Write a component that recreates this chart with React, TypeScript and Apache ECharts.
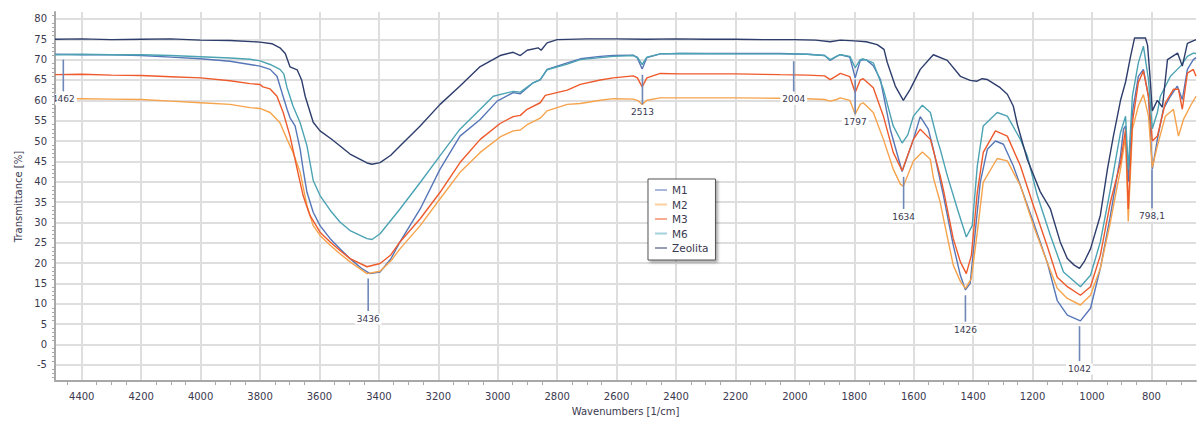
import React, { useEffect, useRef } from "react";
import * as echarts from "echarts";

const seriesNames = ["M1", "M2", "M3", "M6", "Zeolita"];
const seriesColors = ["#5676b8", "#f6a34c", "#ee5a2c", "#4ba3b3", "#2d3d6c"];
const legendColors = ["#a9b8dc", "#fbcf9f", "#f7ab90", "#a3d2da", "#949cb6"];

const xTickRange = [650, 4490];
const yTickRange = [-9, 81.7];

const M1: number[][] = [
  [4490, 71.3], [4400, 71.2], [4300, 71.2], [4200, 71.0], [4100, 70.6], [4000, 70.2], [3901, 69.6],
  [3834, 68.8], [3800, 68.4], [3766, 67.6], [3743, 65.9], [3733, 63.5], [3709, 57.8], [3699, 55.7],
  [3682, 53.7], [3665, 48.0], [3655, 43.1], [3642, 37.4], [3621, 32.5], [3598, 29.2], [3564, 26.0],
  [3531, 23.5], [3497, 21.1], [3460, 18.8], [3430, 17.4], [3396, 17.8], [3360, 21.0], [3329, 25.2],
  [3261, 33.3], [3194, 43.1], [3127, 51.2], [3059, 55.3], [3002, 59.8], [2948, 61.9], [2924, 61.6],
  [2881, 64.3], [2857, 65.0], [2834, 67.6], [2766, 69.2], [2722, 70.2], [2655, 70.8], [2611, 71.0],
  [2544, 71.1], [2530, 70.4], [2514, 67.7], [2498, 70.5], [2453, 71.4], [2386, 71.5], [2200, 71.5],
  [2049, 71.5], [1958, 71.3], [1900, 71.0], [1881, 69.8], [1860, 70.8], [1847, 71.2], [1815, 70.6],
  [1797, 65.5], [1780, 69.8], [1760, 70.0], [1736, 68.5], [1712, 65.1], [1679, 52.9], [1639, 42.5],
  [1601, 50.4], [1578, 56.0], [1551, 52.9], [1534, 48.0], [1500, 36.6], [1467, 24.4], [1443, 17.0],
  [1426, 13.4], [1410, 15.0], [1393, 27.6], [1376, 39.9], [1352, 48.0], [1325, 50.0], [1298, 49.2],
  [1265, 43.9], [1231, 37.0], [1197, 30.0], [1150, 20.0], [1117, 10.8], [1083, 7.2], [1039, 5.8],
  [1005, 8.9], [972, 18.7], [938, 31.7], [904, 46.4], [894, 52.9], [887, 53.7], [878, 40.0],
  [864, 57.0], [844, 65.9], [827, 67.6], [810, 61.0], [797, 43.1], [780, 50.4], [760, 57.8],
  [736, 61.0], [713, 63.5], [696, 60.2], [679, 67.6], [659, 70.0], [650, 70.5],
];

const M2: number[][] = [
  [4490, 60.4], [4400, 60.4], [4300, 60.3], [4200, 60.2], [4100, 59.8], [4000, 59.4], [3901, 59.0],
  [3834, 58.2], [3800, 58.0], [3766, 57.0], [3733, 54.5], [3709, 50.4], [3689, 47.2], [3665, 42.3],
  [3642, 34.1], [3621, 29.2], [3598, 26.8], [3564, 24.4], [3531, 22.3], [3497, 20.3], [3440, 17.4],
  [3396, 18.0], [3360, 20.5], [3329, 23.5], [3261, 29.2], [3194, 35.8], [3127, 42.3], [3059, 47.2],
  [2992, 51.0], [2948, 52.5], [2924, 52.7], [2901, 54.0], [2857, 55.6], [2834, 57.4], [2766, 59.0],
  [2722, 59.2], [2655, 60.0], [2611, 60.4], [2544, 60.3], [2530, 60.0], [2514, 59.0], [2498, 60.0],
  [2453, 60.6], [2386, 60.6], [2200, 60.6], [2049, 60.5], [1958, 60.4], [1900, 60.2], [1881, 59.8],
  [1860, 60.2], [1847, 60.6], [1815, 60.0], [1797, 56.6], [1780, 59.0], [1770, 59.4], [1736, 57.0],
  [1702, 50.4], [1669, 43.1], [1645, 39.4], [1635, 38.9], [1601, 45.1], [1571, 47.3], [1544, 45.5],
  [1534, 41.0], [1511, 35.0], [1500, 31.0], [1467, 19.5], [1443, 15.5], [1426, 13.8], [1406, 16.2],
  [1386, 27.6], [1366, 39.9], [1319, 45.7], [1285, 45.1], [1241, 39.0], [1197, 29.2], [1150, 20.0],
  [1117, 13.8], [1083, 11.3], [1039, 9.7], [1005, 12.1], [972, 18.7], [938, 30.1], [904, 43.1],
  [887, 51.2], [878, 30.2], [864, 52.9], [844, 58.6], [827, 61.4], [810, 56.1], [797, 43.5],
  [780, 48.8], [753, 56.1], [726, 57.8], [709, 51.2], [692, 55.3], [669, 58.6], [650, 61.0],
];

const M3: number[][] = [
  [4490, 66.3], [4400, 66.4], [4300, 66.2], [4200, 66.1], [4100, 65.8], [4000, 65.5], [3901, 64.8],
  [3834, 64.1], [3800, 63.9], [3790, 63.3], [3766, 62.8], [3743, 61.0], [3722, 57.0], [3699, 51.2],
  [3675, 43.1], [3655, 36.6], [3632, 31.7], [3598, 27.6], [3564, 25.2], [3531, 23.1], [3497, 21.1],
  [3440, 19.1], [3396, 19.9], [3360, 22.0], [3329, 25.2], [3261, 30.9], [3194, 37.4], [3127, 44.7],
  [3059, 50.4], [2992, 54.3], [2948, 56.0], [2924, 56.3], [2901, 57.8], [2857, 59.4], [2840, 61.2],
  [2766, 62.5], [2722, 63.9], [2655, 65.0], [2611, 65.5], [2544, 66.0], [2530, 65.5], [2514, 63.3],
  [2498, 65.5], [2453, 66.6], [2386, 66.5], [2200, 66.5], [2049, 66.3], [1958, 66.2], [1900, 66.0],
  [1881, 65.1], [1860, 66.0], [1847, 66.6], [1815, 65.8], [1797, 61.9], [1780, 65.0], [1770, 65.3],
  [1736, 63.1], [1702, 56.1], [1669, 47.2], [1639, 42.7], [1601, 50.4], [1578, 52.9], [1544, 50.4],
  [1511, 41.5], [1500, 38.0], [1467, 26.0], [1443, 20.3], [1423, 17.4], [1406, 21.9], [1386, 37.4],
  [1366, 47.2], [1325, 52.5], [1285, 51.2], [1241, 43.9], [1197, 34.1], [1150, 24.0], [1117, 16.5],
  [1083, 14.2], [1039, 12.1], [1005, 14.2], [972, 21.9], [938, 35.0], [904, 44.7], [887, 52.9],
  [878, 33.3], [864, 54.6], [844, 64.4], [827, 67.2], [810, 61.0], [797, 50.0], [780, 51.2],
  [753, 59.4], [726, 62.7], [709, 62.7], [696, 57.8], [679, 66.7], [659, 67.6], [650, 65.9],
];

const M6: number[][] = [
  [4490, 71.2], [4400, 71.3], [4300, 71.2], [4200, 71.2], [4100, 71.0], [4000, 70.7], [3901, 70.4],
  [3834, 70.1], [3800, 69.7], [3766, 68.8], [3733, 67.6], [3720, 66.5], [3709, 63.1], [3689, 58.6],
  [3665, 54.5], [3642, 48.8], [3621, 40.3], [3598, 36.6], [3564, 33.0], [3531, 30.1], [3497, 28.0],
  [3440, 26.0], [3423, 25.8], [3396, 27.2], [3329, 33.3], [3261, 39.8], [3194, 46.4], [3127, 52.9],
  [3059, 57.8], [3015, 61.0], [2948, 62.2], [2924, 62.0], [2881, 64.3], [2857, 65.1], [2834, 67.5],
  [2766, 68.9], [2722, 70.0], [2655, 70.5], [2611, 70.8], [2544, 71.0], [2530, 70.6], [2514, 68.8],
  [2498, 70.6], [2453, 71.4], [2386, 71.5], [2200, 71.4], [2049, 71.4], [1958, 71.3], [1900, 71.0],
  [1881, 70.0], [1860, 70.8], [1847, 71.2], [1815, 70.8], [1797, 68.0], [1780, 70.0], [1770, 70.2],
  [1736, 69.2], [1702, 62.7], [1669, 53.7], [1639, 49.5], [1620, 51.5], [1601, 56.1], [1571, 58.8],
  [1544, 57.0], [1521, 50.4], [1511, 48.0], [1487, 41.5], [1453, 33.3], [1423, 26.4], [1403, 29.2],
  [1386, 43.9], [1366, 53.7], [1319, 57.0], [1285, 56.1], [1241, 50.4], [1218, 46.4], [1184, 36.6],
  [1140, 26.8], [1096, 17.8], [1039, 14.2], [1005, 17.0], [972, 25.2], [938, 38.2], [904, 52.1],
  [887, 56.1], [878, 43.0], [864, 61.0], [844, 69.2], [827, 73.3], [810, 65.1], [797, 53.0],
  [780, 57.0], [770, 61.0], [736, 65.9], [702, 68.4], [679, 70.8], [659, 71.6], [650, 71.5],
];

const Zeolita: number[][] = [
  [4490, 75.0], [4400, 75.1], [4300, 74.9], [4200, 75.0], [4100, 75.1], [4000, 74.8], [3900, 74.7],
  [3800, 74.3], [3760, 73.9], [3733, 72.9], [3715, 71.5], [3699, 68.2], [3675, 67.5], [3660, 65.0],
  [3648, 61.0], [3621, 54.6], [3598, 52.5], [3560, 50.5], [3497, 46.8], [3440, 44.6], [3423, 44.3],
  [3396, 44.7], [3360, 46.5], [3329, 48.8], [3261, 53.7], [3194, 59.0], [3127, 63.5], [3059, 68.3],
  [2992, 71.0], [2948, 71.8], [2924, 71.0], [2901, 72.3], [2864, 72.9], [2854, 72.3], [2834, 74.1],
  [2800, 74.9], [2700, 75.1], [2600, 75.1], [2500, 75.0], [2400, 75.1], [2300, 75.0], [2200, 75.0],
  [2100, 74.9], [2000, 74.9], [1930, 74.8], [1881, 74.4], [1847, 74.8], [1800, 74.6], [1760, 74.4],
  [1723, 73.7], [1700, 72.5], [1689, 69.3], [1662, 63.5], [1635, 60.0], [1612, 62.7], [1578, 67.6],
  [1544, 70.4], [1534, 71.2], [1487, 69.8], [1443, 65.9], [1410, 64.9], [1387, 64.7], [1370, 65.3],
  [1352, 65.1], [1309, 63.1], [1285, 61.5], [1265, 58.6], [1251, 54.0], [1218, 45.5], [1174, 37.5],
  [1140, 33.3], [1107, 25.2], [1083, 21.1], [1060, 19.5], [1042, 18.7], [1025, 20.5], [1005, 23.5],
  [972, 31.7], [948, 43.1], [928, 51.2], [904, 60.0], [887, 64.5], [871, 70.5], [857, 75.3],
  [820, 75.3], [813, 73.5], [805, 66.0], [797, 57.4], [780, 60.0], [763, 58.3], [746, 70.0],
  [712, 71.6], [696, 68.4], [679, 74.0], [650, 74.9],
];

const seriesData = [M1, M2, M3, M6, Zeolita];

const annotationLabels = ["4462", "3436", "2513", "2004", "1797", "1634", "1426", "1042", "798,1"];
const annotationX = [4462, 3436, 2513, 2004, 1797, 1634, 1426, 1042, 798.1];
const annotationTop = [70.0, 16.2, 66.3, 69.6, 65.1, 41.2, 12.1, 4.5, 43.0];
const annotationBottom = [62.2, 8.2, 59.0, 62.2, 56.6, 33.3, 5.6, -4.1, 33.5];

const FONT = "DejaVu Sans";
const TEXT = "#3b3950";

export default function App() {
  const ref = useRef<HTMLDivElement>(null);
  useEffect(() => {
    if (!ref.current) return;
    const chart = echarts.init(ref.current, undefined, { renderer: "svg" });
    const lineSeries = seriesNames.map((name, i) => ({
      name,
      type: "line",
      data: seriesData[i],
      showSymbol: false,
      symbol: "none",
      z: 2 + i,
      lineStyle: { color: seriesColors[i], width: 1.4 },
      itemStyle: { color: seriesColors[i] },
    }));
    const annotationSeries = {
      type: "custom",
      name: "annotations",
      clip: true,
      z: 20,
      data: annotationX.map((x, i) => [x, annotationTop[i], annotationBottom[i]]),
      encode: { x: 0, y: [1, 2] },
      renderItem: (params: any, api: any) => {
        const p1 = api.coord([api.value(0), api.value(1)]);
        const p2 = api.coord([api.value(0), api.value(2)]);
        return {
          type: "group",
          children: [
            {
              type: "line",
              shape: { x1: p1[0], y1: p1[1], x2: p2[0], y2: p2[1] },
              style: { stroke: "#6e88b8", lineWidth: 1.6 },
            },
            {
              type: "text",
              style: {
                text: annotationLabels[params.dataIndex],
                x: p2[0],
                y: p2[1] + 8,
                align: "center",
                verticalAlign: "middle",
                fill: TEXT,
                font: `9px "${FONT}"`,
                backgroundColor: "#ffffff",
                padding: [1, 2, 1, 2],
              },
            },
          ],
        };
      },
    };
    chart.setOption({
      animation: false,
      backgroundColor: "#ffffff",
      grid: { left: 55, right: 1, top: 12, bottom: 38, containLabel: false },
      legend: {
        orient: "vertical",
        left: 648,
        top: 179,
        data: seriesNames.map((n, i) => ({
          name: n,
          itemStyle: { color: legendColors[i] },
          lineStyle: { color: legendColors[i] },
        })),
        icon: "rect",
        itemWidth: 12,
        itemHeight: 2,
        itemGap: 2.5,
        padding: [5, 7, 6, 7],
        backgroundColor: "#ffffff",
        borderColor: "#555555",
        borderWidth: 1,
        shadowBlur: 3,
        shadowOffsetX: 2,
        shadowOffsetY: 2,
        shadowColor: "rgba(0,0,0,0.35)",
        selectedMode: false,
        textStyle: { fontFamily: FONT, fontSize: 10.5, color: TEXT, lineHeight: 12 },
      },
      xAxis: {
        type: "value",
        inverse: true,
        min: xTickRange[0],
        max: xTickRange[1],
        splitNumber: 19,
        name: "Wavenumbers [1/cm]",
        nameLocation: "middle",
        nameGap: 22,
        nameTextStyle: { fontFamily: FONT, fontSize: 10, color: TEXT },
        axisLine: { show: true, onZero: false, lineStyle: { color: "#a8a8a8", width: 2 } },
        axisTick: { show: false },
        minorTick: { show: true, splitNumber: 4, length: 4, lineStyle: { color: "#a8a8a8", width: 1 } },
        axisLabel: {
          showMinLabel: false,
          showMaxLabel: false,
          margin: 10,
          fontFamily: FONT,
          fontSize: 10,
          color: TEXT,
          formatter: (v: number) => String(v),
        },
        splitLine: { show: true, showMinLine: false, showMaxLine: false, lineStyle: { color: "#dedede", width: 2 } },
      },
      yAxis: {
        type: "value",
        min: yTickRange[0],
        max: yTickRange[1],
        splitNumber: 18,
        name: "Transmittance [%]",
        nameLocation: "middle",
        nameGap: 31,
        nameTextStyle: { fontFamily: FONT, fontSize: 10, color: TEXT },
        axisLine: { show: true, onZero: false, lineStyle: { color: "#a8a8a8", width: 2 } },
        axisTick: { show: false },
        minorTick: { show: true, splitNumber: 5, length: 3, lineStyle: { color: "#a8a8a8", width: 1 } },
        axisLabel: {
          showMinLabel: false,
          showMaxLabel: false,
          margin: 8,
          fontFamily: FONT,
          fontSize: 10,
          color: TEXT,
          formatter: (v: number) => String(v),
        },
        splitLine: { show: true, showMinLine: false, showMaxLine: false, lineStyle: { color: "#dedede", width: 2 } },
      },
      series: [...lineSeries, annotationSeries],
    });
    return () => chart.dispose();
  }, []);
  return <div ref={ref} style={{ position: "absolute", left: 0, top: 0, width: 1197, height: 421 }} />;
}
